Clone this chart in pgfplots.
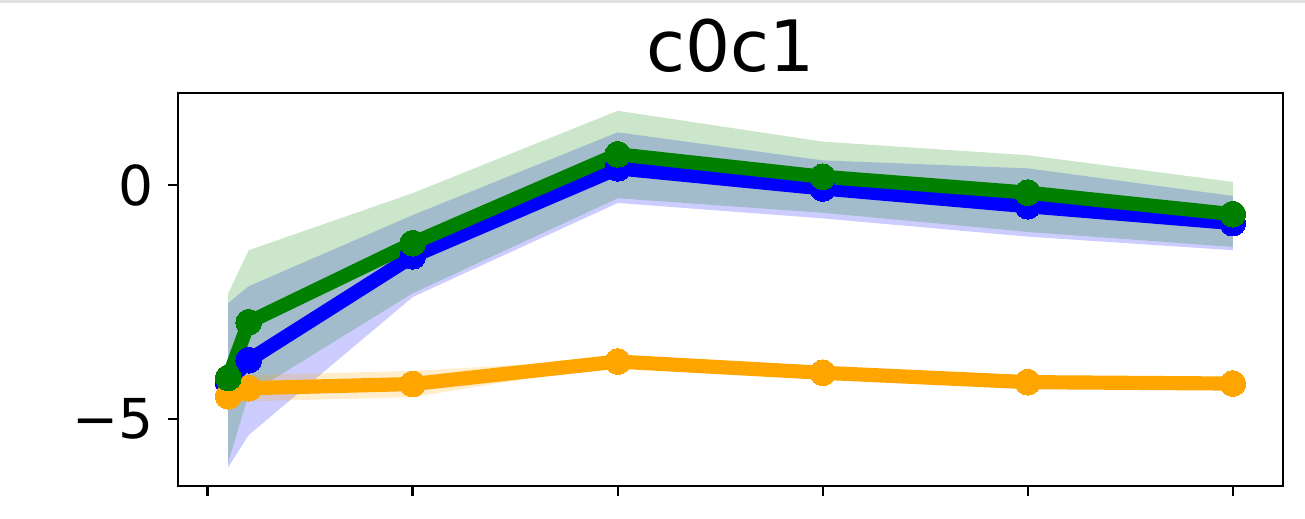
\documentclass[border=0pt]{standalone}
\usepackage{pgfplots}
\pgfplotsset{compat=1.18}
\usepackage{fontspec}
\setmainfont{DejaVu Sans}

\definecolor{cblue}{HTML}{0000FF}
\definecolor{cgreen}{HTML}{008000}
\definecolor{corange}{HTML}{FFA500}

\begin{document}
\begin{tikzpicture}[x=1pt,y=1pt]
% page frame and thin grey strip along the top
\path[use as bounding box] (0,0) rectangle (313.2,124.32);
\fill[black!12] (0,123.5) rectangle (313.2,124.32);

\begin{axis}[
  at={(42.72pt,7.68pt)}, anchor=south west,
  scale only axis, width=265.2pt, height=94.32pt,
  xmin=-0.145, xmax=5.245, ymin=-6.43, ymax=1.97,
  xtick={0,1,2,3,4,5}, xticklabels={},
  ytick={-5,0}, yticklabels={−5,0},
  xtick pos=bottom, ytick pos=left,
  tick align=outside, major tick length=2.4pt,
  every tick/.style={black, line width=0.6pt},
  axis line style={line width=0.6pt},
  tick label style={font=\fontsize{13.2}{15}\selectfont},
  every axis title shift=0pt,
  title={c0c1},
  title style={font=\fontsize{17}{20}\selectfont, at={(0.5,1)}, anchor=base, yshift=5.04pt, inner sep=0pt},
  clip=false,
]
% standard-deviation bands
\addplot[draw=none, fill=cblue, fill opacity=0.2, forget plot] coordinates {
 (0.1,-6.03) (0.2,-5.34) (1,-2.39) (2,-0.38) (3,-0.71) (4,-1.10) (5,-1.39)
 (5,-0.23) (4,0.36) (3,0.53) (2,1.13) (1,-0.64) (0.2,-2.16) (0.1,-2.52)} -- cycle;
\addplot[draw=none, fill=cgreen, fill opacity=0.2, forget plot] coordinates {
 (0.1,-5.92) (0.2,-4.47) (1,-2.31) (2,-0.28) (3,-0.59) (4,-1.00) (5,-1.32)
 (5,0.07) (4,0.64) (3,0.93) (2,1.59) (1,-0.17) (0.2,-1.39) (0.1,-2.31)} -- cycle;
\addplot[draw=none, fill=corange, fill opacity=0.2, forget plot] coordinates {
 (0.1,-4.76) (0.2,-4.62) (1,-4.53) (2,-3.82) (3,-4.06) (4,-4.26) (5,-4.29)
 (5,-4.19) (4,-4.16) (3,-3.96) (2,-3.72) (1,-3.97) (0.2,-4.06) (0.1,-4.26)} -- cycle;

% means
\addplot[cblue, line width=3.4pt, mark=*, mark size=3.1pt, mark options={fill=cblue, draw=cblue, line width=0pt}] coordinates {
 (0.1,-4.22) (0.2,-3.74) (1,-1.52) (2,0.36) (3,-0.07) (4,-0.45) (5,-0.81)};
\addplot[corange, line width=3.4pt, mark=*, mark size=3.1pt, mark options={fill=corange, draw=corange, line width=0pt}] coordinates {
 (0.1,-4.51) (0.2,-4.34) (1,-4.25) (2,-3.77) (3,-4.01) (4,-4.21) (5,-4.24)};
\addplot[cgreen, line width=3.4pt, mark=*, mark size=3.1pt, mark options={fill=cgreen, draw=cgreen, line width=0pt}] coordinates {
 (0.1,-4.12) (0.2,-2.93) (1,-1.24) (2,0.66) (3,0.18) (4,-0.16) (5,-0.62)};
\end{axis}
\end{tikzpicture}
\end{document}
